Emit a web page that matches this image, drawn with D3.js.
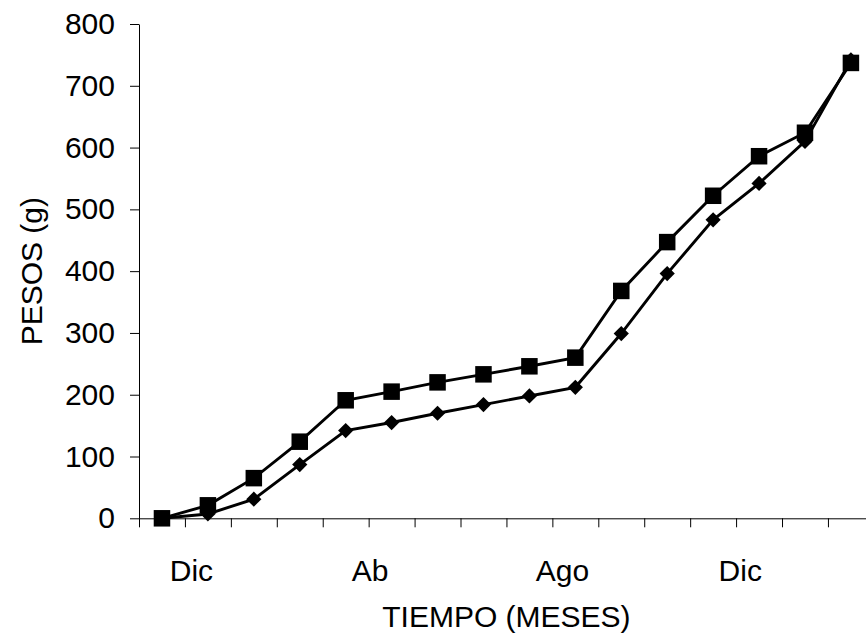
<!DOCTYPE html>
<html>
<head>
<meta charset="utf-8">
<script src="https://cdn.jsdelivr.net/npm/d3@7"></script>
<style>
  body { margin: 0; background: #fff; }
  svg { display: block; font-family: "Liberation Sans", Arial, sans-serif; }
</style>
</head>
<body>
<div id="svgcontainer"></div>
<script>
// ---------------- data ----------------
const months = d3.range(16)   // one point per month, Dec .. next Mar
const peso_cuadrados = [0, 21, 65, 124, 191, 205, 220, 233, 246, 260, 368, 447, 522, 586, 624, 737]
const peso_rombos = [0, 7, 31, 87, 142, 155, 170, 184, 198, 212, 299, 396, 483, 542, 610, 742]
const mes_labels = ['Dic', 'Ab', 'Ago', 'Dic']
const mes_label_pos = [0.63, 4.52, 8.71, 12.58]   // where the labels sit, in month units
const y_ticks = [0, 100, 200, 300, 400, 500, 600, 700, 800]

// ---------------- layout ----------------
const svg_width = 866,
    svg_height = 644
const margin = { top: 24, left: 139, bottom: 125 }
const step = 45.93   // width of one month slot
const graph_height = svg_height - margin.top - margin.bottom - 0.7

let svg = d3.select('#svgcontainer')
    .append('svg')
    .attr('width', svg_width)
    .attr('height', svg_height)

// category axis runs past the right edge, like the original
let xScale = d3.scaleLinear()
    .domain([-0.5, 15.5])
    .range([margin.left, margin.left + step * 16])
let yScale = d3.scaleLinear()
    .domain([0, 800])
    .range([margin.top + graph_height, margin.top])

const y0 = yScale(0)

// y axis
let y_axis = svg.append('g')
    .attr('transform', 'translate(' + margin.left + ',0)')
    .call(d3.axisLeft(yScale).tickValues(y_ticks).tickSize(9).tickPadding(15).tickSizeOuter(0))
y_axis.selectAll('text').attr('font-size', 30).attr('fill', '#000').attr('font-family', '"Liberation Sans", Arial, sans-serif')
y_axis.selectAll('line, path').attr('stroke', '#000')

// x axis: ticks on the month boundaries
let x_axis = svg.append('g')
    .attr('transform', 'translate(0,' + y0 + ')')
    .call(d3.axisBottom(xScale).tickValues(d3.range(-0.5, 16, 1)).tickSize(9).tickFormat('').tickSizeOuter(0))
x_axis.selectAll('line, path').attr('stroke', '#000')

// month labels
let x_labels = svg.append('g')
    .attr('transform', 'translate(0,' + y0 + ')')
    .call(d3.axisBottom(xScale).tickValues(mes_label_pos).tickSize(0).tickPadding(41)
        .tickFormat((d, i) => mes_labels[i]))
x_labels.select('.domain').remove()
x_labels.selectAll('text').attr('font-size', 30).attr('fill', '#000').attr('font-family', '"Liberation Sans", Arial, sans-serif')

// axis titles
svg.append('text')
    .attr('x', (xScale.range()[0] + xScale.range()[1]) / 2)
    .attr('y', 627)
    .attr('text-anchor', 'middle')
    .attr('font-size', 30)
    .text('TIEMPO (MESES)')

svg.append('text')
    .attr('transform', 'translate(41.5,' + (margin.top + graph_height / 2) + ') rotate(-90)')
    .attr('text-anchor', 'middle')
    .attr('font-size', 30)
    .text('PESOS (g)')

// lines
function draw_series(values) {
    let line = d3.line()
        .x((d, i) => xScale(months[i]))
        .y(d => yScale(d))
    svg.append('path')
        .datum(values)
        .attr('fill', 'none')
        .attr('stroke', '#000')
        .attr('stroke-width', 2.9)
        .attr('d', line)
}
draw_series(peso_cuadrados)
draw_series(peso_rombos)

// markers
const sq = 16.5
svg.append('g').selectAll('rect')
    .data(peso_cuadrados)
    .join('rect')
    .attr('x', (d, i) => xScale(months[i]) - sq / 2)
    .attr('y', d => yScale(d) - sq / 2)
    .attr('width', sq)
    .attr('height', sq)
    .attr('fill', '#000')

const r = 7.6
svg.append('g').selectAll('path')
    .data(peso_rombos)
    .join('path')
    .attr('transform', (d, i) => 'translate(' + xScale(months[i]) + ',' + yScale(d) + ')')
    .attr('d', 'M0,' + (-r) + 'L' + r + ',0L0,' + r + 'L' + (-r) + ',0Z')
    .attr('fill', '#000')
</script>
</body>
</html>
